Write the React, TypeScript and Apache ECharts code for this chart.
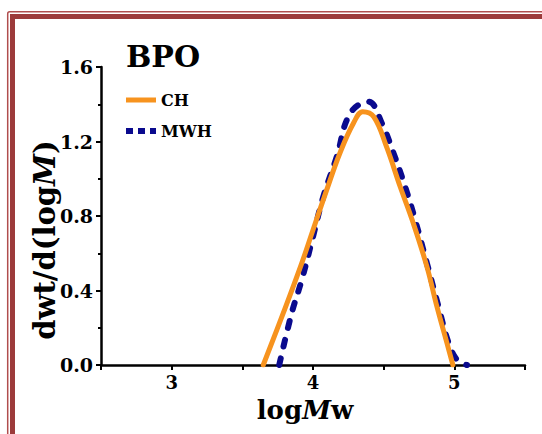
import React, { useEffect, useRef } from "react";
import * as echarts from "echarts";

// Molecular weight distribution, BPO initiator
const chCurve: [number, number][] = [
  [3.648, 0.0], [3.79, 0.28], [3.92, 0.546], [4.0, 0.725], [4.097, 0.94],
  [4.19, 1.137], [4.286, 1.298], [4.352, 1.36], [4.43, 1.333], [4.52, 1.172],
  [4.617, 0.957], [4.71, 0.76], [4.806, 0.528], [4.877, 0.313], [4.948, 0.117],
  [4.99, 0.0],
];

const mwhCurve: [number, number][] = [
  [3.761, 0.0], [3.849, 0.278], [3.92, 0.456], [4.0, 0.689], [4.073, 0.904],
  [4.168, 1.118], [4.262, 1.35], [4.392, 1.414], [4.487, 1.298], [4.57, 1.137],
  [4.652, 0.957], [4.723, 0.778], [4.806, 0.546], [4.888, 0.313], [4.96, 0.117],
  [5.02, 0.027], [5.09, 0.0],
];

const seriesNames = ["CH", "MWH"];
const xRange = [2.5, 5.5];
const yRange = [0, 1.6];

const SERIF = "'DejaVu Serif', serif";
const ORANGE = "#F7931E";
const NAVY = "#0A0A8E";
const FRAME = "#9C3B3B";

export default function App() {
  const ref = useRef<HTMLDivElement>(null);

  useEffect(() => {
    document.body.style.margin = "0";
    if (!ref.current) return;
    const chart = echarts.init(ref.current, undefined, { renderer: "svg" });
    chart.setOption({
      animation: false,
      backgroundColor: "#ffffff",
      title: {
        text: "BPO",
        left: 121,
        top: 36,
        textStyle: { fontFamily: SERIF, fontWeight: "bold", fontSize: 30, color: "#000" },
      },
      legend: {
        orient: "vertical",
        left: 118,
        top: 87,
        itemWidth: 30,
        itemHeight: 14,
        itemGap: 15,
        textStyle: { fontFamily: SERIF, fontWeight: "bold", fontSize: 16, color: "#000" },
        data: [
          {
            name: seriesNames[0],
            itemStyle: { opacity: 0 },
            lineStyle: { width: 5, type: "solid", cap: "butt", opacity: 1 },
          },
          {
            name: seriesNames[1],
            itemStyle: { opacity: 0 },
            lineStyle: { width: 6, type: [7, 5], cap: "butt", opacity: 1 },
          },
        ],
      },
      grid: { left: 101, right: 17, top: 67, bottom: 69, containLabel: false },
      xAxis: {
        type: "value",
        min: xRange[0],
        max: xRange[1],
        interval: 0.5,
        name: "{a|log}{b|M}{a|w}",
        nameLocation: "middle",
        nameGap: 32,
        nameTextStyle: {
          padding: [0, 16, 0, 0],
          rich: {
            a: { fontFamily: SERIF, fontWeight: "bold", fontSize: 26, color: "#000" },
            b: { fontFamily: SERIF, fontWeight: "bold", fontStyle: "italic", fontSize: 26, color: "#000" },
          },
        },
        axisLine: { lineStyle: { color: "#000", width: 2.5 } },
        axisTick: { show: true, inside: false, length: 5, lineStyle: { color: "#000", width: 2 } },
        axisLabel: {
          fontFamily: SERIF,
          fontWeight: "bold",
          fontSize: 18,
          color: "#000",
          margin: 8,
          formatter: (v: number) => (Number.isInteger(v) ? String(v) : ""),
        },
        splitLine: { show: false },
      },
      yAxis: {
        type: "value",
        min: yRange[0],
        max: yRange[1],
        interval: 0.4,
        axisLine: { show: true, lineStyle: { color: "#000", width: 2.5 } },
        axisTick: { show: true, inside: false, length: 5, lineStyle: { color: "#000", width: 2 } },
        minorTick: { show: true, splitNumber: 2, length: 3, lineStyle: { color: "#000", width: 2 } },
        axisLabel: {
          fontFamily: SERIF,
          fontWeight: "bold",
          fontSize: 19,
          color: "#000",
          margin: 8,
          formatter: (v: number) => v.toFixed(1),
        },
        splitLine: { show: false },
      },
      series: [
        {
          name: seriesNames[0],
          type: "line",
          data: chCurve,
          smooth: 0.4,
          showSymbol: false,
          symbol: "none",
          itemStyle: { color: ORANGE },
          lineStyle: { color: ORANGE, width: 5, cap: "round", join: "round" },
          z: 3,
        },
        {
          name: seriesNames[1],
          type: "line",
          data: mwhCurve,
          smooth: 0.4,
          showSymbol: false,
          symbol: "none",
          itemStyle: { color: NAVY },
          lineStyle: { color: NAVY, width: 6, type: [7, 12], cap: "round" },
          z: 2,
        },
      ],
      graphic: [
        {
          type: "text",
          silent: true,
          x: 45,
          y: 240,
          rotation: Math.PI / 2,
          style: {
            text: "{a|dwt/d(log}{b|M}{a|)}",
            align: "center",
            verticalAlign: "middle",
            rich: {
              a: { fontFamily: SERIF, fontWeight: "bold", fontSize: 29, fill: "#000" },
              b: { fontFamily: SERIF, fontWeight: "bold", fontStyle: "italic", fontSize: 29, fill: "#000" },
            },
          },
        },
        {
          type: "rect",
          silent: true,
          shape: { x: 7.7, y: 11.7, width: 700, height: 700, r: 2 },
          style: { fill: "none", stroke: "#B04E4E", lineWidth: 1.5 },
        },
        {
          type: "rect",
          silent: true,
          shape: { x: 12.5, y: 16.5, width: 700, height: 700 },
          style: { fill: "none", stroke: FRAME, lineWidth: 5 },
        },
      ],
    });
    return () => chart.dispose();
  }, []);

  return <div ref={ref} style={{ width: 542, height: 434 }} />;
}
